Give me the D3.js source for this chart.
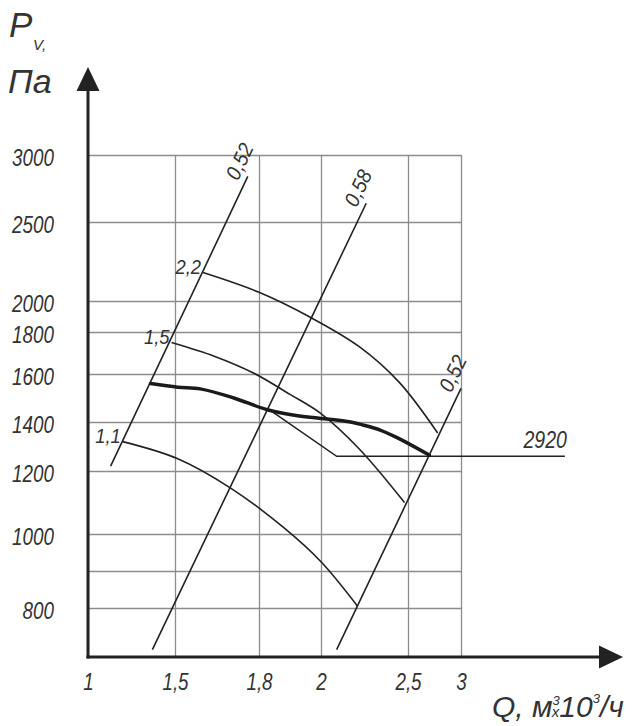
<!DOCTYPE html>
<html>
<head>
<meta charset="utf-8">
<script src="https://cdn.jsdelivr.net/npm/d3@7"></script>
<style>
body{margin:0;background:#fff}
svg{display:block}
text{font-family:"Liberation Sans",Arial,sans-serif;font-style:italic;fill:#333}
</style>
</head>
<body>
<script>
// axis ticks (Q in 10^3 m3/h, P in Pa)
let qTicks=[1,1.5,1.8,2,2.5,3];
let pTicks=[800,900,1000,1200,1400,1600,1800,2000,2500,3000];
let pLabels=[800,1000,1200,1400,1600,1800,2000,2500,3000];

// efficiency lines
let effNames=["0,52","0,58","0,52"];
let effQ=[[1.13,1.76],[1.37,2.26],[2.09,3.0]];
let effP=[[1220,2840],[715,2640],[715,1540]];

// power curves, kW
let powNames=["2,2","1,5","1,1"];
let powQ=[[1.60,1.80,1.97,2.22,2.45,2.78],[1.48,1.64,1.78,1.90,2.0,2.22,2.48],[1.20,1.51,1.70,1.88,2.0,2.21]];
let powP=[[2180,2055,1890,1730,1565,1355],[1750,1685,1605,1515,1435,1290,1100],[1320,1250,1145,1020,925,805]];

// fan curve
let mainQ=[1.36,1.51,1.59,1.71,1.83,1.93,2.0,2.17,2.24,2.34,2.44,2.70];
let mainP=[1560,1545,1538,1500,1450,1425,1415,1400,1388,1367,1335,1265];

// rpm leader
let rpmName="2920";
let rpmQ=[1.84,2.09,3.98];
let rpmP=[1445,1260,1260];

let W=644,H=726;
let svg=d3.select("body").append("svg").attr("width",W).attr("height",H);

// the drawing's own (uneven) scales
let x=d3.scaleLinear().domain(qTicks).range([88,175,259,321,408,461]);
let y=d3.scaleLinear().domain([700].concat(pTicks)).range([657,608,571,534,471,422,374,332,301,222,155]);

let fmt=d=>String(d).replace(".",",");
let gridCol="#8c8c8c";

let gx=svg.append("g").attr("transform","translate(0,"+y(700)+")")
  .call(d3.axisBottom(x).tickValues(qTicks).tickSize(-(y(700)-y(3000))).tickFormat(fmt));
gx.select(".domain").remove();
gx.selectAll("line").attr("stroke",gridCol).attr("stroke-width",1.3);
gx.selectAll("text").attr("y",33).attr("dy",0).style("font-size","23px").attr("fill","#333").attr("transform","scale(0.82,1)");

let sy=0.82;
let gy=svg.append("g").attr("transform","translate("+x(1)+",0)")
  .call(d3.axisLeft(y).tickValues(pTicks).tickSize(-(x(3)-x(1))).tickPadding(34).tickFormat(d=>pLabels.includes(d)?d:""));
gy.select(".domain").remove();
gy.selectAll("line").attr("stroke",gridCol).attr("stroke-width",1.3);
gy.selectAll("text").attr("x",-34/sy).attr("dy",0).attr("y",10.5).style("font-size","23px").attr("fill","#333").attr("transform","scale("+sy+",1)");

// axes with arrows
let ax="#222";
svg.append("line").attr("x1",x(1)).attr("x2",x(1)).attr("y1",y(700)+1.5).attr("y2",88).attr("stroke",ax).attr("stroke-width",3);
svg.append("line").attr("x1",x(1)-1.5).attr("x2",602).attr("y1",y(700)).attr("y2",y(700)).attr("stroke",ax).attr("stroke-width",3);
svg.append("path").attr("d","M"+x(1)+",67L"+(x(1)+11.5)+",91L"+(x(1)-11.5)+",91Z").attr("fill",ax);
svg.append("path").attr("d","M623,"+y(700)+"L599,"+(y(700)-11.5)+"L599,"+(y(700)+11.5)+"Z").attr("fill",ax);

let lineStr="#222";
let straight=d3.line().x(d=>x(d[0])).y(d=>y(d[1]));
let curved=d3.line().x(d=>x(d[0])).y(d=>y(d[1])).curve(d3.curveCatmullRom.alpha(0.5));

// efficiency lines + rotated labels
effNames.forEach((nm,i)=>{
  let pts=effQ[i].map((q,j)=>[q,effP[i][j]]);
  svg.append("path").attr("d",straight(pts)).attr("fill","none").attr("stroke",lineStr).attr("stroke-width",1.6);
  let x0=x(pts[0][0]),y0=y(pts[0][1]),x1=x(pts[1][0]),y1=y(pts[1][1]);
  let len=Math.hypot(x1-x0,y1-y0),ux=(x1-x0)/len,uy=(y1-y0)/len;
  let ang=Math.atan2(uy,ux)*180/Math.PI;
  let cx=x1+ux*10+uy*14,cy=y1+uy*10-ux*14;
  svg.append("g").attr("transform","translate("+cx+","+cy+") rotate("+ang+")")
    .append("text").attr("text-anchor","middle").attr("dy","0.35em").attr("transform","scale(0.92,1)")
    .style("font-size","21px").text(nm);
});

// power curves
powNames.forEach((nm,i)=>{
  let pts=powQ[i].map((q,j)=>[q,powP[i][j]]);
  svg.append("path").attr("d",curved(pts)).attr("fill","none").attr("stroke",lineStr).attr("stroke-width",1.6);
  svg.append("g").attr("transform","translate("+(x(pts[0][0])-2)+","+(y(pts[0][1])+1)+")")
    .append("text").attr("text-anchor","end").attr("transform","scale(0.92,1)")
    .style("font-size","20px").text(nm);
});

// rpm leader
let rp=rpmQ.map((q,j)=>[q,rpmP[j]]);
svg.append("path").attr("d",straight(rp)).attr("fill","none").attr("stroke",lineStr).attr("stroke-width",1.6);
svg.append("g").attr("transform","translate("+(x(rp[2][0])+2)+","+(y(rp[2][1])-8)+")")
  .append("text").attr("text-anchor","end").attr("transform","scale(0.85,1)").style("font-size","23px").text(rpmName);

// fan curve
svg.append("path").attr("d",curved(mainQ.map((q,j)=>[q,mainP[j]]))).attr("fill","none").attr("stroke","#1a1a1a").attr("stroke-width",3.5).attr("stroke-linecap","round");

// axis titles
svg.append("text").attr("x",9).attr("y",37).style("font-size","35px").text("P");
svg.append("text").attr("x",33).attr("y",50).style("font-size","15px").text("V,");
svg.append("text").attr("x",8).attr("y",93).style("font-size","34px").text("Па");

let qt=svg.append("text").attr("x",492).attr("y",717).style("font-size","30px");
qt.append("tspan").text("Q, м");
qt.append("tspan").attr("dy",-12).style("font-size","13px").text("3");
qt.append("tspan").attr("dx",-8).attr("dy",12).style("font-size","15px").text("x");
qt.append("tspan").text("10");
qt.append("tspan").attr("dy",-14).style("font-size","13px").text("3");
qt.append("tspan").attr("dy",14).text("/ч");
</script>
</body>
</html>
